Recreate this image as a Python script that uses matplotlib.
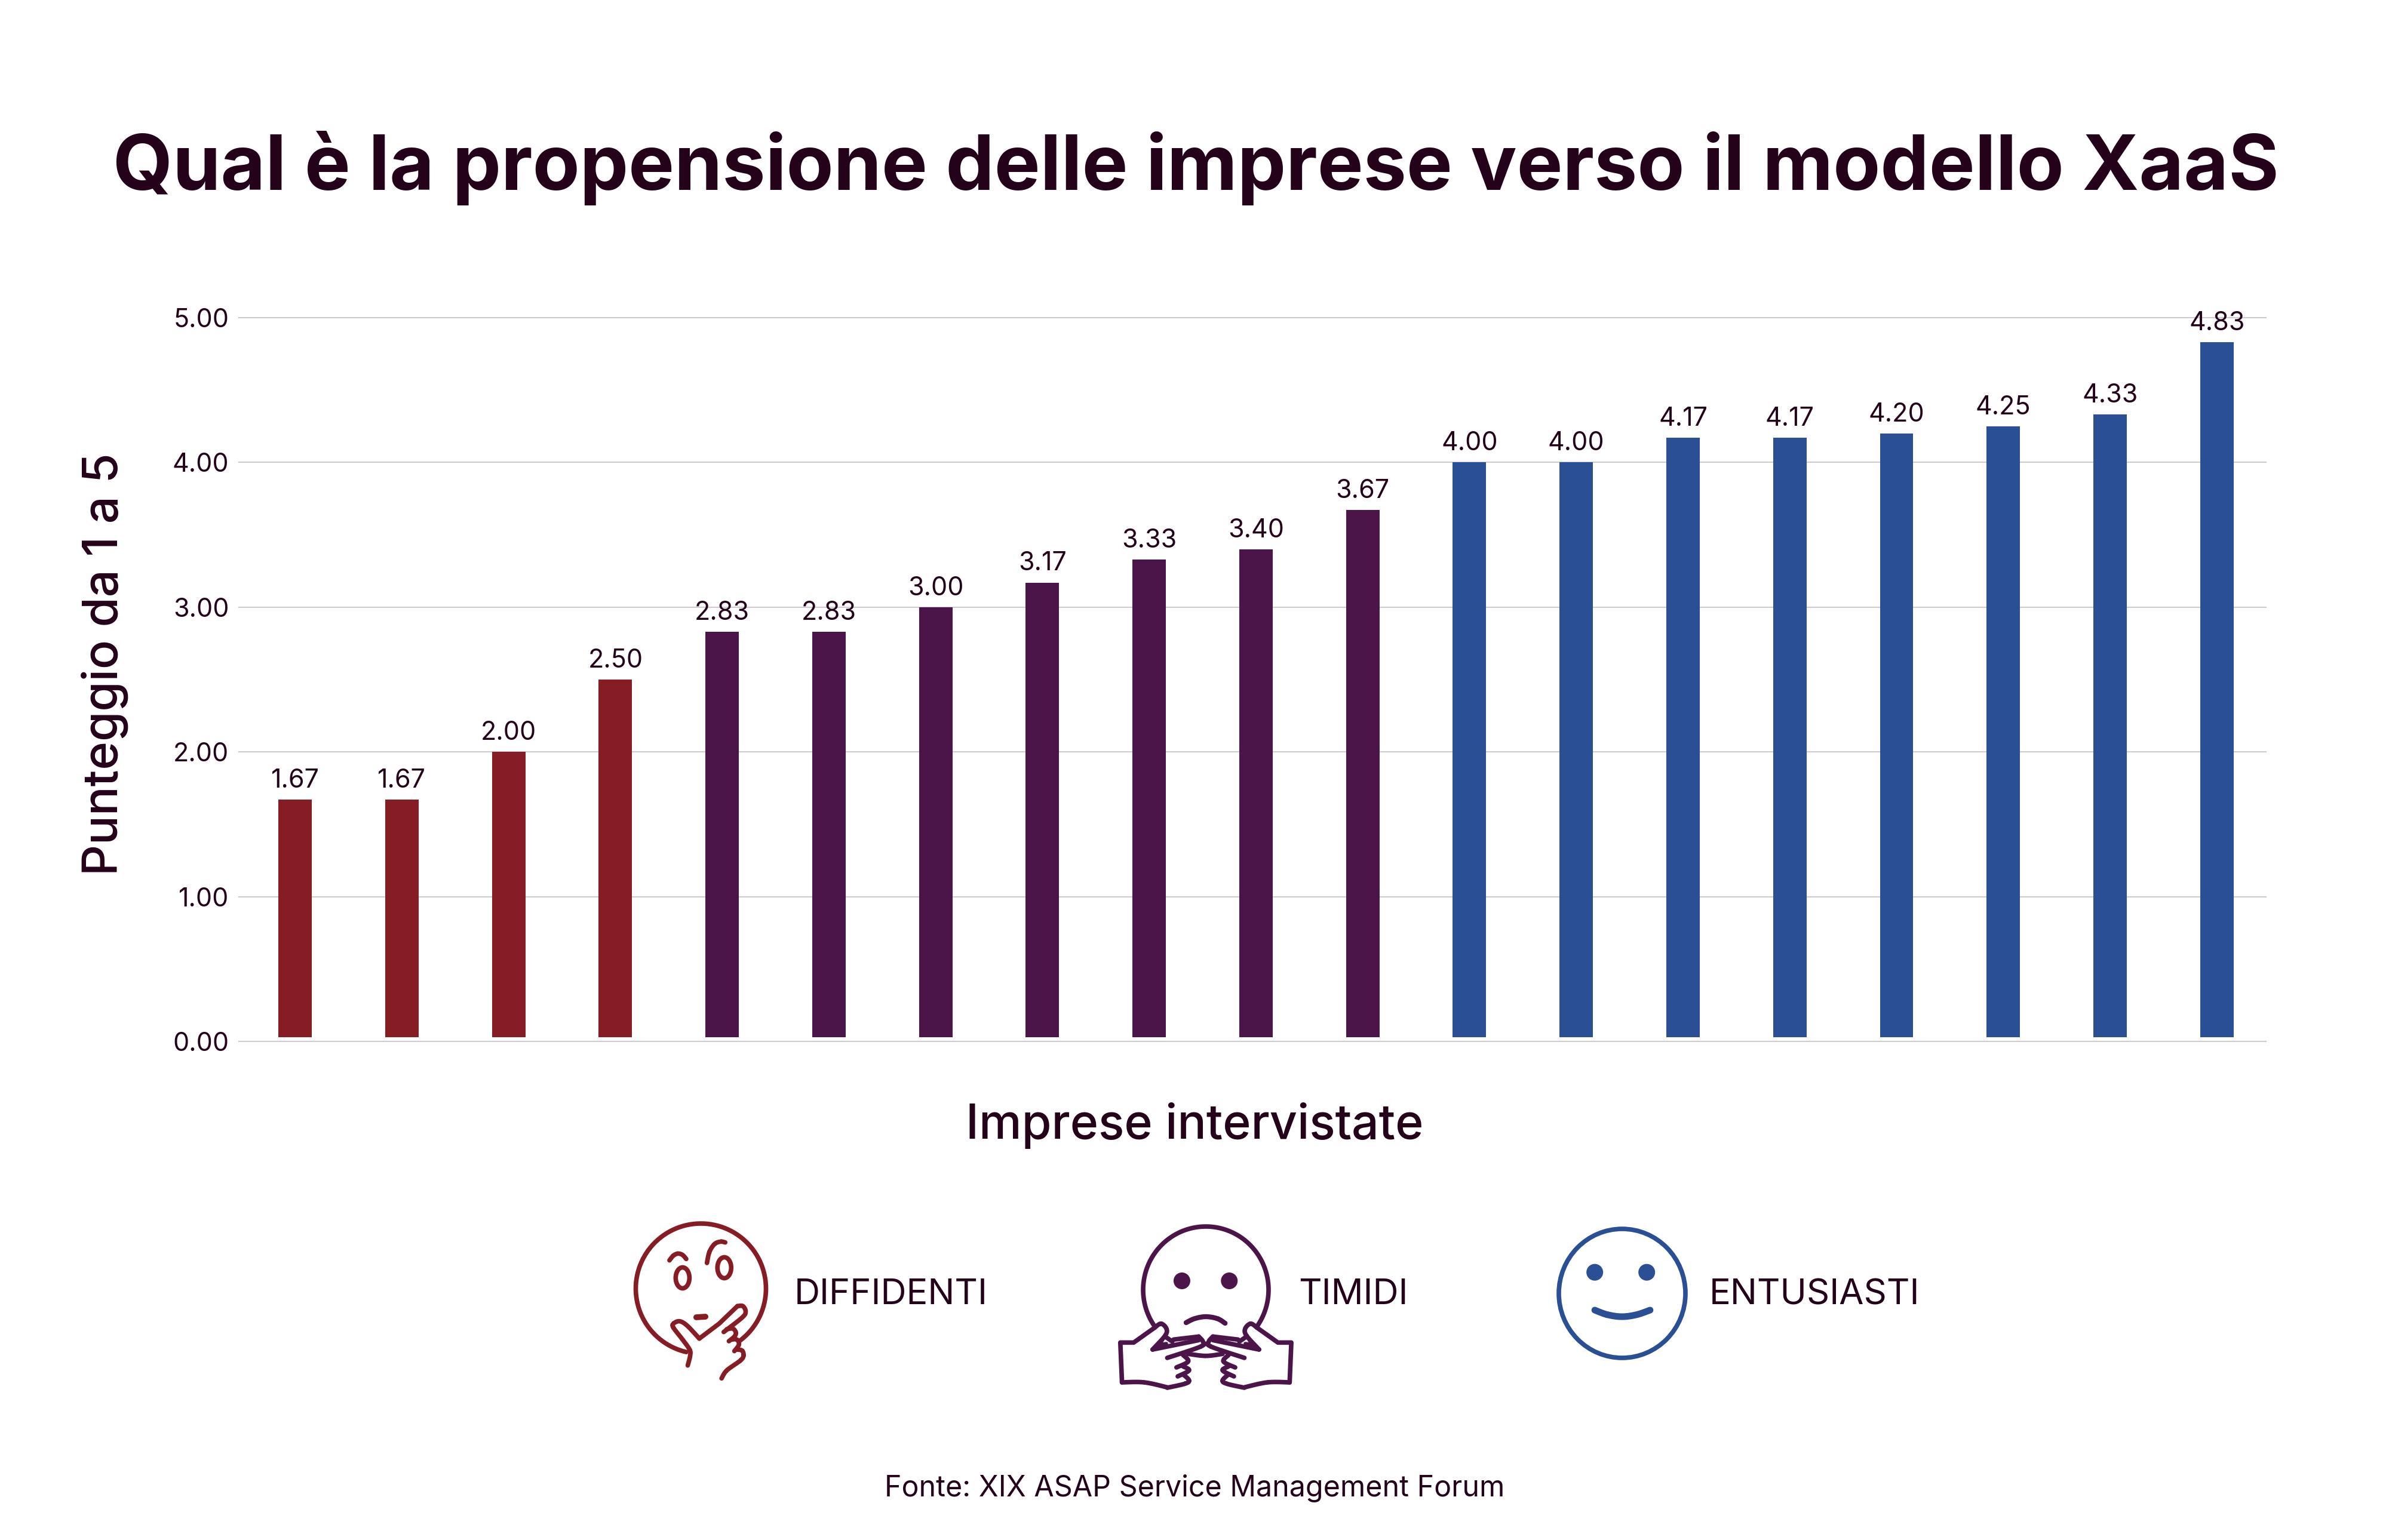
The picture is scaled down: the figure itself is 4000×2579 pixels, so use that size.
import matplotlib
matplotlib.use("Agg")
import matplotlib.pyplot as plt
import numpy as np
from matplotlib.patches import Ellipse

plt.rcParams['font.family'] = ['Inter', 'DejaVu Sans']

# valori
diffidenti = [1.67, 1.67, 2.00, 2.50]
timidi = [2.83, 2.83, 3.00, 3.17, 3.33, 3.40, 3.67]
entusiasti = [4.00, 4.00, 4.17, 4.17, 4.20, 4.25, 4.33, 4.83]
y_ticks = [0, 1, 2, 3, 4, 5]

title = "Qual è la propensione delle imprese verso il modello XaaS"
xlabel = "Imprese intervistate"
ylabel = "Punteggio da 1 a 5"
source = "Fonte: XIX ASAP Service Management Forum"
legend_names = ["DIFFIDENTI", "TIMIDI", "ENTUSIASTI"]

RED = '#871d24'
PURPLE = '#4b1549'
BLUE = '#2a4f95'
INK = '#23021a'
GRID = '#cfcad1'

W, H = 4000, 2579
fig = plt.figure(figsize=(W / 100, H / 100), dpi=100, facecolor='white')

# asse del grafico, posizione in pixel
left, right, top, bottom = 400, 3794, 532, 1744
ax = fig.add_axes([left / W, 1 - bottom / H, (right - left) / W, (bottom - top) / H])

# sovrapposizione in pixel per testi e icone
over = fig.add_axes([0, 0, 1, 1], facecolor='none')
over.set_xlim(0, W)
over.set_ylim(H, 0)
over.axis('off')

values = diffidenti + timidi + entusiasti
colors = [RED] * len(diffidenti) + [PURPLE] * len(timidi) + [BLUE] * len(entusiasti)
x = np.arange(len(values))
floor = 0.03  # le barre partono poco sopra la linea dello zero
bars = ax.bar(x, np.array(values) - floor, bottom=floor, width=0.313, color=colors, zorder=3)
ax.bar_label(bars, labels=['%.2f' % v for v in values], padding=8, fontsize=31, color=INK, zorder=4)

ax.set_xlim(-0.526, 18.46)
ax.set_ylim(0, 5)
ax.set_yticks(y_ticks)
ax.set_yticklabels(['%.2f' % t for t in y_ticks], fontsize=31, color=INK)
ax.set_xticks([])
ax.tick_params(axis='y', length=0, pad=12)
ax.grid(axis='y', color=GRID, lw=1.5, zorder=0, clip_on=False)
for s in ax.spines.values():
    s.set_visible(False)

ax.set_xlabel(xlabel, fontsize=58, color=INK, va='center', fontweight='medium')
ax.xaxis.set_label_coords(2000, 1885, transform=over.transData)
ax.set_ylabel(ylabel, fontsize=58.5, color=INK, va='center', fontweight='medium')
ax.yaxis.set_label_coords(175, 1112, transform=over.transData)

over.text(2002, 281, title, fontsize=92.9, fontweight='bold', color=INK, ha='center', va='center')
over.text(2000, 2492, source, fontsize=34.8, color=INK, ha='center', va='center')
for name, tx in zip(legend_names, [1330, 2174, 2862]):
    over.text(tx, 2169, name, fontsize=43, color=INK, ha='left', va='center')


def smooth(pts, n=12):
    # catmull-rom per le curve delle icone
    p = np.array(pts, dtype=float)
    p = np.vstack([p[0], p, p[-1]])
    out = []
    for i in range(1, len(p) - 2):
        t = np.linspace(0, 1, n)[:, None]
        out.append(0.5 * (2 * p[i] + (p[i + 1] - p[i - 1]) * t
                          + (2 * p[i - 1] - 5 * p[i] + 4 * p[i + 1] - p[i + 2]) * t ** 2
                          + (3 * p[i] - p[i - 1] - 3 * p[i + 1] + p[i + 2]) * t ** 3))
    return np.vstack(out)


def stroke(pts, color, lw=5.5, curved=True):
    c = smooth(pts) if curved else np.array(pts, dtype=float)
    over.plot(c[:, 0], c[:, 1], color=color, lw=lw, solid_capstyle='round', solid_joinstyle='round')


def arc(cx, cy, rx, ry, a0, a1, color, lw=5.5):
    a = np.radians(np.linspace(a0, a1, 200))
    over.plot(cx + rx * np.cos(a), cy + ry * np.sin(a), color=color, lw=lw, solid_capstyle='round')


# icona diffidenti, coordinate prese dal ritaglio
def d(pts):
    return [(1000 + px / 1.96, 1980 + py / 3) for px, py in pts]


arc(1173.5, 2158, 109, 109, 53, -257, RED)
for c in [(280, 480), (417, 429)]:
    over.add_patch(Ellipse(d([c])[0], 23, 35, fill=False, ec=RED, lw=5.5))
stroke(d([(237, 392), (250, 368), (265, 358), (280, 365), (292, 385)]), RED)
stroke(d([(360, 405), (368, 350), (385, 310), (405, 298), (420, 302)]), RED)
stroke(d([(325, 678), (355, 675)]), RED, lw=7, curved=False)
stroke(d([(297, 920), (305, 870), (303, 840), (280, 790), (250, 730), (250, 710), (270, 698), (295, 720), (335, 785)]), RED)
stroke(d([(335, 785), (400, 710), (460, 622)]), RED, curved=False)
stroke(d([(460, 622), (478, 622), (487, 650), (475, 680), (415, 752)]), RED)
stroke(d([(425, 738), (445, 735), (455, 755), (450, 775), (432, 798)]), RED)
stroke(d([(440, 790), (458, 790), (465, 815), (450, 848)]), RED)
stroke(d([(455, 840), (475, 845), (480, 870), (470, 895), (425, 945), (408, 985)]), RED)


# icona timidi
def t(pts, mirror=False):
    return [(1800 + ((624 - px) if mirror else px) / 1.425, 1980 + py / 3) for px, py in pts]


arc(2019, 2160, 105, 106, 145, 395, PURPLE)
stroke(t([(270, 862), (312, 872), (352, 862)]), PURPLE)
stroke(t([(265, 705), (285, 685), (312, 675), (340, 685), (358, 708)]), PURPLE, lw=6)
for c in [(255, 495), (368, 495)]:
    over.add_patch(Ellipse(t([c])[0], 28, 28, color=PURPLE, lw=0))
for m in [False, True]:
    stroke(t([(220, 1030), (165, 1005), (112, 1005)], m), PURPLE)
    stroke(t([(112, 1005), (108, 805), (140, 805), (190, 730)], m), PURPLE, curved=False)
    stroke(t([(190, 730), (205, 710), (218, 735), (215, 770), (185, 840)], m), PURPLE)
    stroke(t([(185, 840), (295, 793)], m), PURPLE, curved=False)
    stroke(t([(295, 775), (305, 800), (300, 825), (220, 882)], m), PURPLE)
    stroke(t([(235, 790), (295, 775)], m), PURPLE, curved=False)
    stroke(t([(215, 775), (232, 800)], m), PURPLE, curved=False)
    stroke(t([(208, 795), (200, 815), (218, 810)], m), PURPLE, lw=4, curved=False)
    stroke(t([(258, 868), (270, 900), (242, 930)], m), PURPLE)
    stroke(t([(258, 925), (272, 945), (245, 975)], m), PURPLE)
    stroke(t([(258, 965), (272, 995), (262, 1012), (220, 1032)], m), PURPLE)

# icona entusiasti
over.add_patch(Ellipse((2716, 2166), 212, 216, fill=False, ec=BLUE, lw=5.5))
for c in [(1240, 452), (1364, 452)]:
    over.add_patch(Ellipse(t([c])[0], 28, 28, color=BLUE, lw=0))
stroke(t([(1240, 642), (1270, 665), (1305, 675), (1340, 665), (1372, 642)]), BLUE, lw=8)

fig.savefig('out.png', dpi=100, facecolor='white')
